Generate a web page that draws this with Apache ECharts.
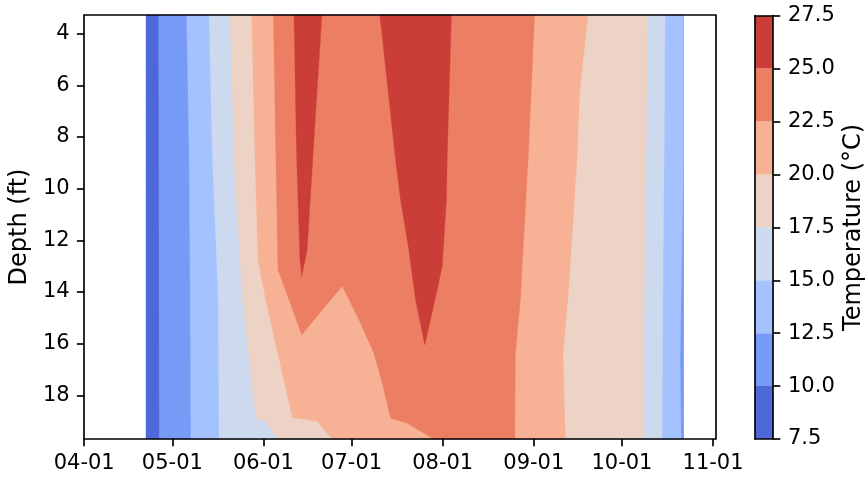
<!DOCTYPE html>
<html><head><meta charset="utf-8">
<script src="https://cdn.jsdelivr.net/npm/echarts@6/dist/echarts.min.js"></script>
<style>html,body{margin:0;padding:0;background:#fff;}#c{width:867px;height:479px;}</style>
</head><body><div id="c"></div>
<script>
// x values are day-of-year (2019); y values are depth in ft
const xTickDoy = [91, 121, 152, 182, 213, 244, 274, 305];
const xTickLabels = ['04-01', '05-01', '06-01', '07-01', '08-01', '09-01', '10-01', '11-01'];
const yTicks = [4, 6, 8, 10, 12, 14, 16, 18];
const levels = [7.5, 10, 12.5, 15, 17.5, 20, 22.5, 25, 27.5];
const bandColors = ['#4e68d8', '#779af7', '#a3c2fe', '#ccd9ee', '#ecd3c5', '#f7b194', '#ec7f63', '#cb3e38'];
const depthTop = 3.28, depthBottom = 19.69;
const dataStartDoy = 112.0, dataEndDoy = 294.9;

// isotherms: [day-of-year, depth ft]
const iso10Rise = [[116.31, 3.28], [116.42, 10.44], [116.52, 19.69]];
const iso12_5Rise = [[125.83, 3.28], [126.71, 8.70], [127.05, 13.92], [127.29, 19.69]];
const iso12_5Fall = [[294.9, 3.28], [294.9, 9.08], [294.13, 14.31], [293.79, 16.63], [294.13, 19.69]];
const iso15Rise = [[133.51, 3.28], [134.59, 8.70], [136.57, 14.11], [136.91, 19.69]];
const iso15Fall = [[288.69, 3.28], [288.35, 8.89], [287.91, 14.31], [287.67, 19.69]];
const iso17_5Rise = [[140.64, 3.28], [142.00, 8.89], [144.86, 14.31], [149.38, 18.88], [152.77, 19.01], [156.75, 19.69]];
const iso17_5Fall = [[282.81, 3.28], [282.23, 8.89], [281.55, 14.31], [281.32, 19.69]];
const iso20Rise = [[148.02, 3.28], [149.14, 8.89], [150.16, 12.76], [152.77, 14.31], [161.85, 18.86], [170.34, 19.01], [175.44, 19.69]];
const iso20Fall = [[262.42, 3.28], [259.57, 6.30], [258.69, 8.89], [255.83, 13.92], [253.93, 16.43], [254.72, 19.69]];
const iso22_5Rise = [[155.39, 3.28], [156.17, 8.50], [156.95, 13.15], [160.69, 14.31], [165.01, 15.66], [178.83, 13.77], [185.05, 15.21], [189.57, 16.37], [192.43, 17.53], [195.25, 18.88], [200.92, 19.08], [209.96, 19.69]];
const iso22_5Fall = [[244.28, 3.28], [242.24, 8.50], [239.42, 14.31], [237.72, 16.43], [237.55, 19.69]];
const iso25SpikeJune = [[162.39, 3.28], [163.21, 8.50], [164.43, 12.76], [165.01, 13.41], [166.87, 12.37], [168.98, 8.50], [171.90, 3.28]];
const iso25SpikeJuly = [[191.61, 3.28], [196.95, 8.89], [198.65, 10.44], [201.47, 12.37], [203.75, 14.31], [206.90, 16.05], [211.12, 13.92], [212.82, 13.02], [214.27, 10.44], [214.51, 8.89], [215.97, 3.28]];

const polys = [];
function band(i, pts) { polys.push({ c: bandColors[i], pts: pts }); }
function between(rise, fall) { return rise.concat(fall.slice().reverse()); }
band(0, [[dataStartDoy, depthTop], [dataEndDoy, depthTop], [dataEndDoy, depthBottom], [dataStartDoy, depthBottom]]);
band(1, between(iso10Rise, [[dataEndDoy, depthTop], [dataEndDoy, depthBottom]]));
band(2, between(iso12_5Rise, iso12_5Fall));
band(3, between(iso15Rise, iso15Fall));
band(4, between(iso17_5Rise, iso17_5Fall));
band(5, between(iso20Rise, iso20Fall));
band(6, between(iso22_5Rise, iso22_5Fall));
band(7, iso25SpikeJune);
band(7, iso25SpikeJuly);

const FONT = 'DejaVu Sans';
const FS = 21;
const NFS = 24;
const LW = 1.67;
const line = { show: true, onZero: false, lineStyle: { color: '#000', width: LW } };
const noTick = { show: false };
const noLabel = { show: false };
const noSplit = { show: false };

const chart = echarts.init(document.getElementById('c'), null, { renderer: 'canvas' });
chart.setOption({
  animation: false,
  backgroundColor: '#fff',
  grid: [
    { left: 83.2, right: 151.6, top: 15, bottom: 40 },
    { left: 755, width: 21, top: 15.7, bottom: 40 }
  ],
  xAxis: [
    { gridIndex: 0, type: 'value', min: 91, max: 305.8, position: 'bottom', z: 10,
      axisLine: line, splitLine: noSplit,
      axisTick: { show: true, length: 7.3, lineStyle: { color: '#000', width: LW }, customValues: xTickDoy },
      axisLabel: { customValues: xTickDoy, margin: 14, fontSize: FS, color: '#000', fontFamily: FONT,
        formatter: function (v) { return xTickLabels[xTickDoy.indexOf(Math.round(v))]; } } },
    { gridIndex: 0, type: 'value', min: 91, max: 305.8, position: 'top', z: 10,
      axisLine: line, axisTick: noTick, axisLabel: noLabel, splitLine: noSplit },
    { gridIndex: 1, type: 'value', min: 0, max: 1, position: 'bottom', z: 10,
      axisLine: line, axisTick: noTick, axisLabel: noLabel, splitLine: noSplit },
    { gridIndex: 1, type: 'value', min: 0, max: 1, position: 'top', z: 10,
      axisLine: line, axisTick: noTick, axisLabel: noLabel, splitLine: noSplit }
  ],
  yAxis: [
    { gridIndex: 0, type: 'value', inverse: true, min: depthTop, max: depthBottom, position: 'left', z: 10,
      axisLine: line, splitLine: noSplit,
      axisTick: { show: true, length: 7.3, lineStyle: { color: '#000', width: LW }, customValues: yTicks },
      axisLabel: { customValues: yTicks, margin: 14.6, fontSize: FS, color: '#000', fontFamily: FONT },
      name: 'Depth (ft)', nameLocation: 'middle', nameRotate: 90, nameGap: 52,
      nameTextStyle: { fontSize: NFS, color: '#000', fontFamily: FONT } },
    { gridIndex: 0, type: 'value', inverse: true, min: depthTop, max: depthBottom, position: 'right', z: 10,
      axisLine: line, axisTick: noTick, axisLabel: noLabel, splitLine: noSplit },
    { gridIndex: 1, type: 'value', min: 7.5, max: 27.5, interval: 2.5, position: 'right', z: 10,
      axisLine: line, splitLine: noSplit,
      axisTick: { show: true, length: 7.3, lineStyle: { color: '#000', width: LW } },
      axisLabel: { margin: 15, fontSize: FS, color: '#000', fontFamily: FONT,
        formatter: function (v) { return v.toFixed(1); } },
      name: 'Temperature (°C)', nameLocation: 'middle', nameRotate: 90, nameGap: 69,
      nameTextStyle: { fontSize: NFS, color: '#000', fontFamily: FONT } },
    { gridIndex: 1, type: 'value', min: 7.5, max: 27.5, position: 'left', z: 10,
      axisLine: line, axisTick: noTick, axisLabel: noLabel, splitLine: noSplit }
  ],
  series: [
    { type: 'custom', xAxisIndex: 0, yAxisIndex: 0, z: 2, silent: true,
      data: polys.map(function (p, i) { return [i]; }),
      encode: { x: -1, y: -1 },
      renderItem: function (params, api) {
        const p = polys[params.dataIndex];
        return { type: 'polygon', shape: { points: p.pts.map(function (q) { return api.coord(q); }) },
          style: { fill: p.c, stroke: p.c, lineWidth: 0.3 } };
      } },
    { type: 'custom', xAxisIndex: 2, yAxisIndex: 2, z: 2, silent: true,
      data: bandColors.map(function (c, i) { return [i]; }),
      encode: { x: -1, y: -1 },
      renderItem: function (params, api) {
        const i = params.dataIndex;
        const a = api.coord([0, levels[i + 1]]);
        const b = api.coord([1, levels[i]]);
        return { type: 'rect', shape: { x: a[0], y: a[1], width: b[0] - a[0], height: b[1] - a[1] },
          style: { fill: bandColors[i] } };
      } }
  ]
});
</script></body></html>
